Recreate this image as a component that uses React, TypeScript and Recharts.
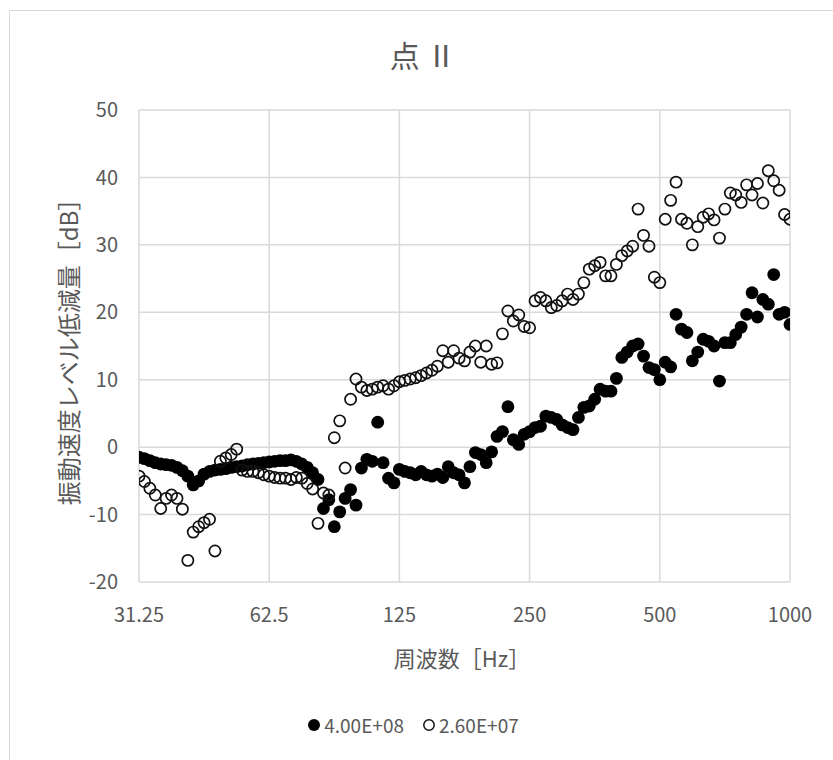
import { ScatterChart, Scatter, XAxis, YAxis, CartesianGrid } from "recharts";

// 1/24-octave frequency points [Hz]
const FREQS = [
  31.25, 32.17, 33.11, 34.08, 35.08, 36.1, 37.16, 38.25, 39.37, 40.53, 41.71, 42.94,
  44.19, 45.49, 46.82, 48.19, 49.61, 51.06, 52.56, 54.1, 55.68, 57.31, 58.99, 60.72,
  62.5, 64.33, 66.22, 68.16, 70.15, 72.21, 74.33, 76.5, 78.75, 81.05, 83.43, 85.87,
  88.39, 90.98, 93.64, 96.39, 99.21, 102.12, 105.11, 108.19, 111.36, 114.63, 117.98, 121.44,
  125, 128.66, 132.43, 136.31, 140.31, 144.42, 148.65, 153.01, 157.49, 162.1, 166.86, 171.74,
  176.78, 181.96, 187.29, 192.78, 198.43, 204.24, 210.22, 216.38, 222.72, 229.25, 235.97, 242.89,
  250, 257.33, 264.86, 272.62, 280.62, 288.84, 297.3, 306.02, 314.98, 324.21, 333.71, 343.49,
  353.55, 363.91, 374.58, 385.55, 396.85, 408.48, 420.45, 432.77, 445.45, 458.5, 471.94, 485.77,
  500, 514.65, 529.73, 545.25, 561.23, 577.68, 594.6, 612.03, 629.96, 648.42, 667.42, 686.98,
  707.11, 727.83, 749.15, 771.11, 793.7, 816.96, 840.9, 865.54, 890.9, 917.0, 943.87, 971.53,
  1000,
];

// 4.00E+08 (filled)
const SERIES_A = [
  -1.5, -1.7, -2.0, -2.3, -2.5, -2.6, -2.7, -3.0, -3.5, -4.3, -5.6, -5.0,
  -4.0, -3.6, -3.4, -3.3, -3.2, -3.0, -2.9, -2.8, -2.6, -2.5, -2.4, -2.3,
  -2.2, -2.1, -2.0, -2.0, -1.9, -2.1, -2.5, -3.0, -3.8, -4.8, -9.1, -7.8,
  -11.8, -9.6, -7.6, -6.3, -8.6, -3.1, -1.8, -2.1, 3.7, -2.3, -4.6, -5.3,
  -3.3, -3.6, -3.8, -4.1, -3.6, -4.1, -4.3, -4.0, -4.5, -2.9, -3.8, -4.1,
  -5.3, -2.9, -0.8, -1.1, -2.3, -0.7, 1.6, 2.3, 6.0, 1.1, 0.4, 1.9,
  2.3, 2.9, 3.1, 4.6, 4.4, 4.1, 3.3, 2.9, 2.6, 4.4, 5.9, 6.1,
  7.1, 8.6, 8.3, 8.3, 10.2, 13.3, 14.1, 15.0, 15.3, 13.5, 11.8, 11.5,
  10.0, 12.6, 11.9, 19.7, 17.5, 17.0, 12.8, 14.1, 16.0, 15.7, 15.0, 9.8,
  15.5, 15.5, 16.7, 17.8, 19.7, 22.9, 19.3, 21.9, 21.2, 25.6, 19.7, 20.0,
  18.2,
];

// 2.60E+07 (open)
const SERIES_B = [
  -4.3, -5.1, -6.1, -7.1, -9.1, -7.6, -7.1, -7.6, -9.2, -16.8, -12.6, -11.8,
  -11.2, -10.7, -15.4, -2.1, -1.6, -1.1, -0.3, -3.4, -3.6, -3.6, -3.8, -4.1,
  -4.3, -4.5, -4.6, -4.6, -4.8, -4.5, -4.6, -5.4, -6.2, -11.3, -6.8, -7.1,
  1.4, 3.9, -3.1, 7.1, 10.1, 8.9, 8.4, 8.6, 8.9, 9.1, 8.6, 9.1,
  9.7, 9.9, 10.1, 10.3, 10.6, 11.0, 11.4, 12.0, 14.3, 12.6, 14.3, 13.2,
  12.8, 14.1, 15.0, 12.6, 15.0, 12.3, 12.5, 16.8, 20.2, 18.7, 19.6, 17.9,
  17.7, 21.7, 22.2, 21.7, 20.7, 21.0, 21.7, 22.7, 21.9, 22.7, 24.4, 26.4,
  26.9, 27.4, 25.4, 25.4, 27.1, 28.4, 29.1, 29.8, 35.3, 31.4, 29.8, 25.2,
  24.4, 33.8, 36.6, 39.3, 33.8, 33.2, 30.0, 32.7, 34.1, 34.6, 33.7, 31.0,
  35.3, 37.7, 37.4, 36.3, 38.9, 37.4, 39.1, 36.2, 41.0, 39.5, 38.1, 34.5,
  33.8,
];

const X_TICKS = [31.25, 62.5, 125, 250, 500, 1000];
const Y_TICKS = [-20, -10, 0, 10, 20, 30, 40, 50];

const FONT = '"Noto Sans CJK JP", "Noto Sans", sans-serif';
const TEXT = "#595959";
const GRID = "#d9d9d9";

const dataA = FREQS.map((f, i) => ({ f, v: SERIES_A[i] }));
const dataB = FREQS.map((f, i) => ({ f, v: SERIES_B[i] }));

const FilledDot = (props: any) => (
  <circle cx={props.cx} cy={props.cy} r={6.4} fill="#000" />
);
const OpenDot = (props: any) => (
  <circle cx={props.cx} cy={props.cy} r={5.6} fill="none" stroke="#111" strokeWidth={1.7} />
);

export default function App() {
  return (
    <div
      style={{
        position: "fixed",
        left: 0,
        top: 0,
        width: 833,
        height: 760,
        background: "#fff",
        overflow: "hidden",
        fontFamily: FONT,
      }}
    >
      <div
        style={{
          position: "absolute",
          left: 9,
          top: 10,
          width: 900,
          height: 900,
          border: `1px solid ${GRID}`,
        }}
      />
      <div
        style={{
          position: "absolute",
          left: 0,
          width: 846,
          top: 32,
          textAlign: "center",
          fontSize: 30,
          color: TEXT,
        }}
      >
        点 Ⅱ
      </div>
      <ScatterChart
        width={833}
        height={760}
        margin={{ top: 110, right: 43, bottom: 148, left: 79 }}
        style={{ position: "absolute", left: 0, top: 0 }}
      >
        <CartesianGrid stroke={GRID} strokeWidth={1.5} />
        <XAxis
          type="number"
          dataKey="f"
          scale="log"
          domain={[31.25, 1000]}
          ticks={X_TICKS}
          allowDataOverflow
          axisLine={false}
          tickLine={false}
          tickSize={0}
          tickMargin={26}
          height={30}
          tick={{ fill: TEXT, fontSize: 20, fontFamily: FONT }}
        />
        <YAxis
          type="number"
          dataKey="v"
          domain={[-20, 50]}
          ticks={Y_TICKS}
          allowDataOverflow
          axisLine={false}
          tickLine={false}
          tickSize={0}
          tickMargin={21}
          width={60}
          tick={{ fill: TEXT, fontSize: 20, fontFamily: FONT }}
        />
        <Scatter data={dataA} shape={FilledDot} isAnimationActive={false} />
        <Scatter data={dataB} shape={OpenDot} isAnimationActive={false} />
      </ScatterChart>
      <div
        style={{
          position: "absolute",
          left: 362,
          top: 642,
          width: 200,
          textAlign: "center",
          fontSize: 22,
          color: TEXT,
          lineHeight: "30px",
        }}
      >
        周波数［Hz］
      </div>
      <div
        style={{
          position: "absolute",
          left: 68 - 200,
          top: 346 - 15,
          width: 400,
          textAlign: "center",
          fontSize: 24,
          color: TEXT,
          lineHeight: "30px",
          transform: "rotate(-90deg)",
        }}
      >
        振動速度レベル低減量［dB］
      </div>
      <div
        style={{
          position: "absolute",
          left: 0,
          width: 826,
          top: 712,
          display: "flex",
          justifyContent: "center",
          alignItems: "center",
          fontSize: 19,
          color: TEXT,
          lineHeight: "26px",
        }}
      >
        <svg width={14} height={14} style={{ marginRight: 3 }}>
          <circle cx={7} cy={7} r={6} fill="#000" />
        </svg>
        <span style={{ marginRight: 18 }}>4.00E+08</span>
        <svg width={14} height={14} style={{ marginRight: 3 }}>
          <circle cx={7} cy={7} r={5.2} fill="none" stroke="#111" strokeWidth={1.5} />
        </svg>
        <span>2.60E+07</span>
      </div>
    </div>
  );
}
